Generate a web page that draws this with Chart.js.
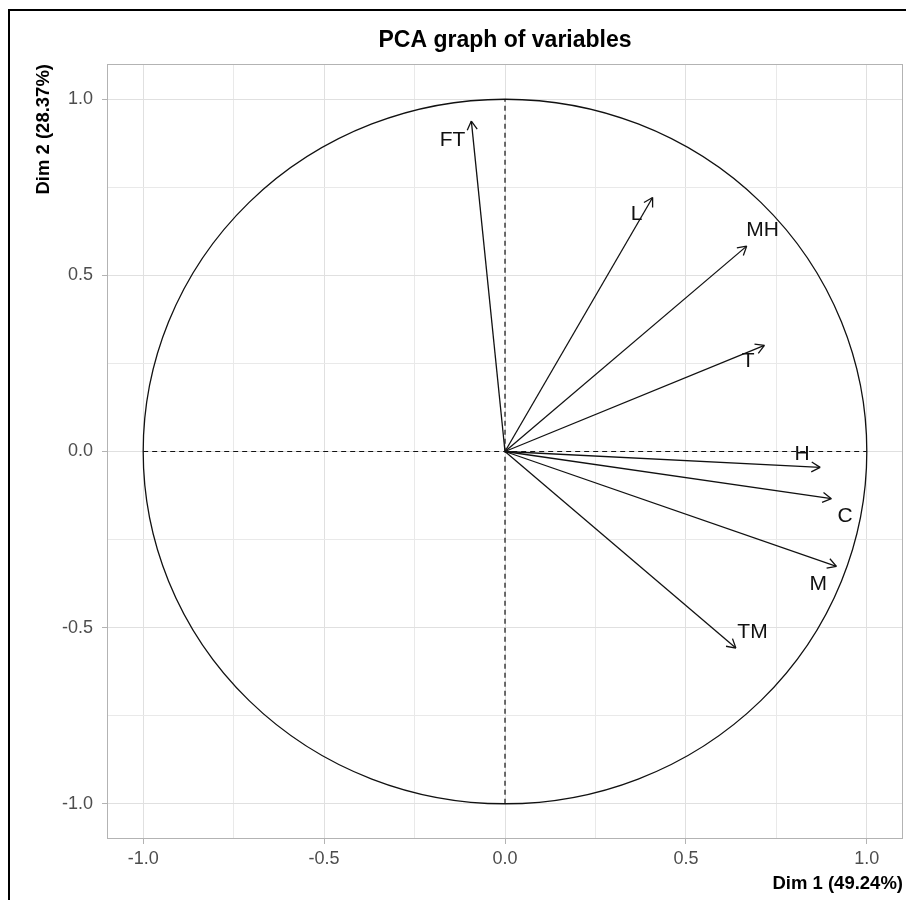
<!DOCTYPE html>
<html>
<head>
<meta charset="utf-8">
<title>PCA graph of variables</title>
<script src="https://cdn.jsdelivr.net/npm/chart.js@4.4.1/dist/chart.umd.min.js"></script>
<style>
  html, body { margin: 0; padding: 0; background: #fff; }
  #wrap { width: 906px; height: 900px; }
</style>
</head>
<body>
<div id="wrap"><canvas id="pca" width="906" height="900"></canvas></div>
<script>
// variables and their coordinates on Dim 1 / Dim 2
const varNames = ['FT', 'L', 'MH', 'T', 'H', 'C', 'M', 'TM'];
const dim1 = [-0.093, 0.408, 0.668, 0.717, 0.871, 0.902, 0.916, 0.638];
const dim2 = [0.938, 0.721, 0.583, 0.301, -0.045, -0.134, -0.326, -0.558];

// where each name is written, in axis units
const labelX = [-0.145, 0.364, 0.712, 0.672, 0.821, 0.940, 0.866, 0.684];
const labelY = [0.884, 0.673, 0.629, 0.256, -0.009, -0.185, -0.378, -0.514];

const majorTicks = [-1.0, -0.5, 0.0, 0.5, 1.0];
const minorTicks = [-0.75, -0.25, 0.25, 0.75];
const axisRange = [-1.1, 1.1];
const refSpan = [-1, 1];

const FONT = "'Liberation Sans', Arial, sans-serif";
const isMajor = v => majorTicks.some(m => Math.abs(m - v) < 1e-9);
const allTicks = () => [...majorTicks, ...minorTicks].sort((a, b) => a - b).map(v => ({ value: v }));

// ── datasets: dashed reference axes + one segment per variable ──────────
const refLines = [
  { data: refSpan.map(v => ({ x: v, y: 0 })) },
  { data: refSpan.map(v => ({ x: 0, y: v })) },
].map(d => ({ ...d, borderColor: '#111', borderWidth: 1.2, borderDash: [5, 4], pointRadius: 0, showLine: true }));

const arrows = varNames.map((name, i) => ({
  label: name,
  data: [{ x: 0, y: 0 }, { x: dim1[i], y: dim2[i] }],
  borderColor: '#111', borderWidth: 1.3, pointRadius: 0, showLine: true,
  arrow: true,
}));

// ── plugins ──────────────────────────────────────────────────────────────
const frame = {
  id: 'frame',
  afterDraw(chart) {
    const { ctx, width, height } = chart;
    ctx.save();
    ctx.fillStyle = '#000';
    ctx.fillRect(8, 9, width - 8, 2);
    ctx.fillRect(8, 9, 2, height - 9);
    ctx.restore();
  }
};

const panel = {
  id: 'panel',
  beforeDatasetsDraw(chart) {
    const { ctx, chartArea: a, scales: { x, y } } = chart;
    ctx.save();
    ctx.strokeStyle = '#b3b3b3';
    ctx.lineWidth = 1;
    ctx.strokeRect(Math.round(a.left) + 0.5, Math.round(a.top) + 0.5, Math.round(a.width) - 1, Math.round(a.height) - 1);
    // correlation circle
    const cx = x.getPixelForValue(0), cy = y.getPixelForValue(0);
    ctx.strokeStyle = '#111';
    ctx.lineWidth = 1.3;
    ctx.beginPath();
    ctx.ellipse(cx, cy, x.getPixelForValue(1) - cx, cy - y.getPixelForValue(1), 0, 0, Math.PI * 2);
    ctx.stroke();
    ctx.restore();
  }
};

const heads = {
  id: 'heads',
  afterDatasetsDraw(chart) {
    const { ctx, scales: { x, y } } = chart;
    const len = 10, spread = Math.PI / 6;
    ctx.save();
    ctx.strokeStyle = '#111';
    ctx.lineWidth = 1.3;
    chart.data.datasets.forEach((ds, i) => {
      if (!ds.arrow) return;
      const [p0, p1] = chart.getDatasetMeta(i).data;
      const ang = Math.atan2(p1.y - p0.y, p1.x - p0.x);
      ctx.beginPath();
      [-1, 1].forEach(s => {
        const a = ang + Math.PI + s * spread;
        ctx.moveTo(p1.x, p1.y);
        ctx.lineTo(p1.x + len * Math.cos(a), p1.y + len * Math.sin(a));
      });
      ctx.stroke();
    });
    // variable names
    ctx.fillStyle = '#111';
    ctx.font = `21px ${FONT}`;
    ctx.textAlign = 'center';
    ctx.textBaseline = 'middle';
    varNames.forEach((n, i) => ctx.fillText(n, x.getPixelForValue(labelX[i]), y.getPixelForValue(labelY[i])));
    ctx.restore();
  }
};

// ── scales ───────────────────────────────────────────────────────────────
const gridOpts = {
  color: c => (c.tick && isMajor(c.tick.value)) ? '#e0e0e0' : '#e9e9e9',
  tickColor: c => (c.tick && isMajor(c.tick.value)) ? '#b3b3b3' : 'rgba(0,0,0,0)',
  tickLength: 5,
  lineWidth: 1,
};
const tickOpts = {
  autoSkip: false, maxRotation: 0, minRotation: 0,
  color: '#4d4d4d',
  font: { family: FONT, size: 18 },
  callback: v => isMajor(v) ? v.toFixed(1) : '',
};
const axisTitleFont = { family: FONT, size: 18.5, weight: 'bold', lineHeight: 1.2 };

new Chart(document.getElementById('pca'), {
  type: 'scatter',
  data: { datasets: [...refLines, ...arrows] },
  options: {
    responsive: false,
    animation: false,
    devicePixelRatio: 1,
    layout: { padding: { left: 0, top: 0, right: 3, bottom: 0 } },
    plugins: {
      legend: { display: false },
      tooltip: { enabled: false },
      title: {
        display: true, text: 'PCA graph of variables', fullSize: false,
        color: '#000', font: { family: FONT, size: 23, weight: 'bold', lineHeight: 1.2 },
        padding: { top: 27, bottom: 9.4 },
      },
    },
    scales: {
      x: {
        type: 'linear', min: axisRange[0], max: axisRange[1],
        afterBuildTicks: s => { s.ticks = allTicks(); },
        afterFit: s => { s.height = 61; },
        ticks: { ...tickOpts, padding: 4 },
        grid: gridOpts,
        border: { display: false },
        title: { display: true, text: 'Dim 1 (49.24%)', align: 'end', color: '#000', font: axisTitleFont, padding: { top: 0, bottom: 5 } },
      },
      y: {
        type: 'linear', min: axisRange[0], max: axisRange[1],
        afterBuildTicks: s => { s.ticks = allTicks(); },
        afterFit: s => { s.width = 107; },
        ticks: { ...tickOpts, padding: 9 },
        grid: gridOpts,
        border: { display: false },
        title: { display: true, text: 'Dim 2 (28.37%)', align: 'end', color: '#000', font: axisTitleFont, padding: { top: 33, bottom: 0 } },
      },
    },
  },
  plugins: [panel, heads, frame],
});
</script>
</body>
</html>
